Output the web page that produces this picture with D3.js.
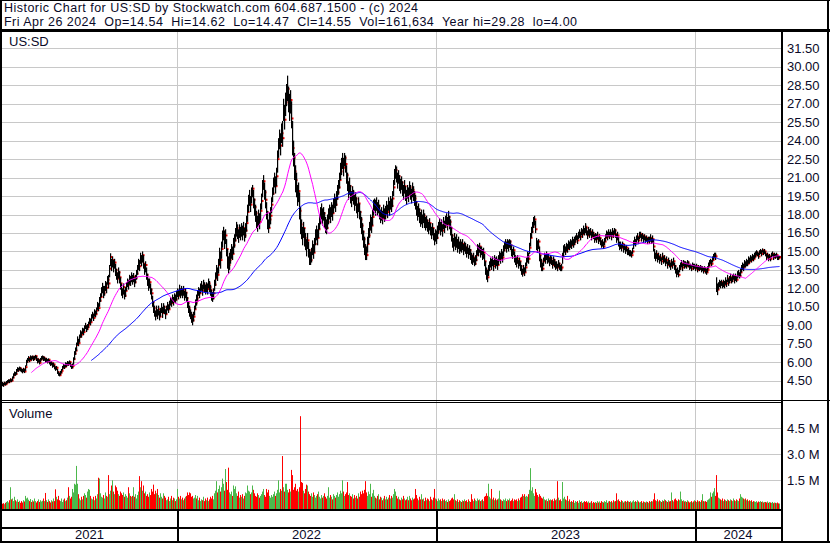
<!DOCTYPE html>
<html>
<head>
<meta charset="utf-8">
<style>
  body { margin: 0; background: #fff; }
  svg { display: block; font-family: "Liberation Sans", Arial, sans-serif; }
</style>
</head>
<body>
<svg id="chart" width="830" height="543"></svg>
<script src="https://d3js.org/d3.v7.min.js"></script>
<script>
// one entry per weekday, Mon May 3 2021 .. Fri Apr 26 2024 (5 per line = 1 week)
var closes = [
  4.25,4.18,4.30,4.22,4.35, 4.40,4.52,4.45,4.58,4.50, 4.75,4.95,5.10,5.05,5.30, 5.45,5.38,5.52,5.40,5.35,
  5.28,5.42,5.25,5.60,6.05, 6.20,6.35,6.15,6.40,6.30, 6.45,6.25,6.38,6.50,6.28, 6.05,6.18,5.95,6.22,6.35,
  6.42,6.25,6.30,6.10,6.18, 6.05,6.20,5.98,5.85,5.92, 5.70,5.82,5.60,5.45,5.55, 5.20,5.05,4.95,5.15,5.30,
  5.55,5.70,5.62,5.85,5.78, 5.95,5.88,6.02,5.75,5.58, 5.70,6.25,6.70,6.95,7.40, 7.80,7.55,8.05,8.40,8.25,
  8.60,8.45,8.80,8.95,8.70, 8.85,9.05,9.40,9.25,9.70, 9.85,9.60,10.05,9.90,10.20, 10.65,10.40,11.00,11.30,11.75,
  12.10,11.60,11.85,12.30,12.05, 12.70,12.40,13.60,14.55,13.90, 14.30,13.80,14.10,13.50,13.20, 12.80,13.30,12.90,12.40,11.90,
  11.60,12.10,11.40,11.80,12.20, 12.50,12.30,12.80,12.60,13.00, 12.70,12.95,12.50,12.85,13.20, 13.60,14.10,13.80,14.60,14.20,
  14.70,14.00,13.50,13.90,13.10, 12.70,12.20,12.50,11.90,11.60, 10.90,10.40,10.10,9.80,10.20, 9.90,10.30,9.70,10.10,10.40,
  10.00,10.50,10.20,9.90,10.35, 10.60,10.30,10.75,11.00,10.80, 11.20,10.90,11.30,11.10,11.45, 11.70,11.40,11.90,11.60,11.80,
  11.55,11.90,11.30,11.65,11.20, 10.80,10.40,10.00,9.85,9.60, 9.40,9.70,10.30,10.80,11.20, 11.00,11.50,11.80,11.60,12.00,
  12.20,11.80,12.30,12.05,11.90, 12.15,11.95,12.40,12.10,11.85, 11.50,11.20,11.60,12.30,12.80, 13.40,13.10,13.90,14.60,14.30,
  15.20,16.10,16.60,15.80,16.30, 15.20,14.40,13.90,14.30,14.60, 15.10,14.80,15.50,15.90,16.40, 16.90,16.50,16.20,16.70,16.40,
  16.80,16.50,16.90,16.30,16.70, 17.30,18.20,18.90,19.40,18.80, 19.60,20.10,19.20,18.60,18.10, 17.60,17.20,17.80,17.40,18.30,
  19.10,20.20,20.70,19.80,19.20, 18.20,17.40,16.90,17.60,17.90, 18.80,19.70,20.40,20.90,20.30, 21.10,22.50,23.40,24.10,23.60,
  24.60,24.20,26.50,25.70,27.10, 27.80,28.20,27.40,26.60,27.30, 25.80,23.40,22.60,21.50,20.80, 20.20,19.40,19.90,18.30,17.20,
  16.80,16.20,16.90,16.10,15.80, 15.30,15.90,15.10,14.50,14.30, 14.80,15.40,14.90,15.60,16.20, 16.50,16.10,16.80,17.40,17.90,
  18.30,17.70,18.10,17.50,17.10, 16.90,17.40,17.80,18.20,17.90, 18.40,18.10,18.70,19.10,18.80, 19.30,19.80,20.20,20.80,21.50,
  21.90,22.40,21.80,22.60,22.10, 21.20,20.60,19.90,20.30,19.60, 19.20,19.80,19.40,18.90,19.30, 18.70,18.30,18.90,18.20,17.60,
  17.10,16.60,16.00,15.40,14.80, 14.70,15.60,16.30,16.80,17.40, 17.10,17.80,18.60,19.00,18.50, 18.90,18.40,18.70,18.20,17.80,
  18.10,17.70,18.30,17.90,18.20, 18.60,18.20,18.90,18.50,19.00, 18.70,19.30,20.20,21.10,21.60, 21.20,20.70,21.10,20.50,20.30,
  20.60,20.10,19.80,20.30,19.70, 19.40,19.90,19.60,20.20,19.80, 19.50,20.00,19.70,19.30,19.00, 18.50,18.10,18.40,17.90,17.60,
  17.80,17.40,17.90,17.50,17.20, 17.50,17.10,16.90,17.30,16.80, 16.50,16.90,16.40,16.00,16.30, 16.10,16.60,16.90,17.20,16.80,
  17.10,16.70,17.30,17.00,17.40, 17.60,17.20,17.80,17.40,16.90, 16.30,15.80,15.50,16.00,15.60, 15.90,15.40,15.70,15.20,15.50,
  15.30,15.60,15.10,15.40,15.20, 14.90,15.20,14.80,15.10,14.70, 14.40,14.20,14.50,14.00,14.30, 14.70,15.20,15.00,15.40,14.90,
  15.10,14.70,14.90,14.20,13.50, 13.20,12.90,13.50,13.80,14.10, 13.90,14.20,13.80,14.30,14.00, 14.20,13.90,14.30,14.60,14.40,
  14.80,14.50,15.10,15.40,15.70, 15.30,15.60,15.40,15.80,15.50, 15.00,14.80,15.10,14.50,14.30, 14.10,14.40,13.90,14.20,13.80,
  13.50,13.20,13.60,13.30,13.70, 14.20,14.60,14.40,15.30,16.10, 16.60,17.00,17.40,17.60,16.80, 15.60,15.40,15.80,14.70,14.20,
  13.90,13.60,14.20,14.60,14.40, 14.70,14.30,14.50,14.10,14.40, 14.20,13.90,14.30,14.00,13.80, 13.90,13.70,14.00,13.80,13.60,
  13.70,14.60,15.10,15.30,15.00, 15.40,15.20,15.60,15.40,15.70, 15.50,15.90,15.60,15.80,16.00, 16.20,15.90,16.30,16.50,16.20,
  16.60,16.40,16.80,16.60,17.00, 16.90,16.60,16.30,16.70,16.40, 16.60,16.20,16.50,16.30,16.00, 16.20,16.00,16.30,15.90,16.10,
  15.80,15.50,15.70,15.40,15.80, 16.10,16.40,16.20,16.50,16.30, 16.50,16.20,16.60,16.40,16.70, 16.40,16.00,16.30,15.60,15.40,
  15.50,15.30,15.60,15.20,15.40, 15.10,15.30,14.90,15.00,14.80, 14.90,14.70,15.00,15.60,15.90, 15.70,16.00,16.20,15.90,16.30,
  16.40,16.10,16.30,16.00,16.20, 15.90,16.10,15.80,16.00,15.90, 16.10,15.80,16.00,15.40,14.70, 14.50,14.80,14.40,14.60,14.30,
  14.50,14.20,14.60,14.30,14.40, 14.10,14.30,13.90,14.20,14.00, 13.80,14.10,13.90,14.20,13.80, 13.50,13.20,13.40,13.10,13.60,
  13.80,14.00,13.70,14.10,13.90, 14.00,13.80,14.10,13.90,13.70, 13.80,13.60,13.90,13.70,13.80, 13.60,13.80,13.50,13.70,13.60,
  13.70,13.50,13.60,13.40,13.60, 13.40,13.30,13.50,13.80,14.00, 14.20,14.00,14.30,14.50,14.70, 14.60,12.20,11.90,12.20,12.40,
  12.30,12.50,12.20,12.40,12.30, 12.60,12.40,12.80,12.50,12.70, 12.90,12.60,12.80,13.00,12.70, 12.90,12.70,13.10,13.20,13.00,
  13.30,13.60,13.80,13.70,14.00, 13.90,14.10,14.00,14.30,14.20, 14.40,14.30,14.50,14.40,14.60, 14.70,14.90,14.80,14.60,14.90,
  15.00,14.80,15.10,14.90,15.00, 14.80,14.50,14.70,14.40,14.60, 14.40,14.70,14.80,14.50,14.70, 14.60,14.70,14.50,14.45,14.55
];

var highs = [
  4.40,4.32,4.42,4.35,4.48, 4.55,4.62,4.60,4.70,4.62, 4.85,5.10,5.25,5.20,5.45, 5.60,5.55,5.65,5.58,5.50,
  5.45,5.55,5.45,5.75,6.20, 6.35,6.50,6.35,6.56,6.48, 6.55,6.48,6.52,6.60,6.50, 6.30,6.32,6.20,6.35,6.50,
  6.55,6.48,6.45,6.32,6.35, 6.25,6.32,6.18,6.05,6.08, 5.95,5.98,5.80,5.65,5.70, 5.45,5.25,5.15,5.30,5.45,
  5.70,5.85,5.80,6.00,5.95, 6.10,6.05,6.15,6.00,5.80, 5.90,6.40,6.90,7.20,7.60, 8.10,7.90,8.25,8.60,8.50,
  8.80,8.75,9.00,9.20,9.00, 9.10,9.30,9.60,9.55,9.90, 10.10,9.95,10.30,10.20,10.45, 10.90,10.80,11.30,11.60,12.10,
  12.45,12.20,12.20,12.60,12.50, 13.00,13.10,13.90,14.85,14.40, 14.60,14.30,14.40,14.00,13.60, 13.30,13.70,13.40,12.90,12.40,
  12.00,12.40,11.90,12.10,12.50, 12.80,12.70,13.10,13.00,13.30, 13.10,13.25,12.90,13.10,13.50, 13.90,14.40,14.30,14.90,14.70,
  15.00,14.70,14.00,14.20,13.70, 13.20,12.80,12.80,12.40,12.00, 11.40,10.90,10.60,10.20,10.60, 10.30,10.60,10.20,10.40,10.80,
  10.50,10.80,10.60,10.30,10.60, 10.90,10.70,11.00,11.30,11.20, 11.50,11.30,11.60,11.50,11.80, 12.00,11.90,12.30,12.00,12.20,
  12.00,12.20,11.80,12.00,11.70, 11.30,10.90,10.60,10.30,10.10, 9.90,10.10,10.60,11.10,11.50, 11.40,11.80,12.10,12.00,12.40,
  12.60,12.30,12.70,12.50,12.30, 12.50,12.40,12.80,12.60,12.30, 11.90,11.70,12.00,12.70,13.30, 13.90,13.70,14.40,15.30,15.00,
  15.80,16.70,17.00,16.70,16.80, 16.00,15.20,14.60,14.90,15.20, 15.60,15.40,16.10,16.40,16.90, 17.40,17.20,16.80,17.20,17.00,
  17.30,17.10,17.40,16.90,17.30, 17.90,18.80,19.60,20.00,19.50, 20.20,20.40,20.00,19.30,18.80, 18.30,17.90,18.40,18.10,18.90,
  19.70,20.80,21.20,20.60,20.00, 19.00,18.30,17.60,18.20,18.60, 19.40,20.20,21.00,21.40,21.10, 21.80,23.20,24.20,24.90,24.60,
  25.40,25.60,27.40,26.90,27.90, 28.60,29.28,28.40,27.80,28.10, 27.20,25.60,24.00,23.00,22.00, 21.40,20.40,20.60,19.80,18.60,
  17.60,17.00,17.40,16.90,16.50, 16.00,16.50,15.80,15.20,15.00, 15.30,15.90,15.60,16.10,16.80, 17.10,16.80,17.30,18.00,18.60,
  18.90,18.50,18.60,18.20,17.80, 17.60,18.00,18.50,18.80,18.60, 19.00,18.80,19.30,19.70,19.40, 19.90,20.40,20.80,21.40,22.20,
  22.60,23.00,22.60,23.00,22.80, 22.00,21.40,20.70,21.00,20.40, 19.90,20.30,20.00,19.60,19.80, 19.40,18.90,19.40,18.90,18.30,
  17.80,17.30,16.70,16.20,15.60, 15.40,16.20,16.90,17.40,18.00, 17.80,18.40,19.20,19.30,19.20, 19.40,19.00,19.20,18.80,18.40,
  18.60,18.30,18.80,18.50,18.70, 19.10,18.80,19.40,19.10,19.50, 19.30,19.90,20.80,21.70,22.00, 21.90,21.40,21.60,21.20,20.90,
  21.10,20.70,20.40,20.80,20.30, 20.00,20.40,20.20,20.70,20.40, 20.10,20.60,20.30,19.90,19.60, 19.10,18.70,18.90,18.50,18.20,
  18.40,18.00,18.40,18.10,17.80, 17.90,17.60,17.40,17.70,17.30, 17.00,17.30,16.90,16.50,16.80, 16.70,17.10,17.40,17.70,17.40,
  17.60,17.20,17.80,17.50,17.90, 18.10,17.80,18.30,17.90,17.60, 17.00,16.40,16.10,16.50,16.20, 16.40,16.00,16.20,15.80,16.00,
  15.80,16.00,15.60,15.80,15.70, 15.40,15.60,15.30,15.50,15.20, 14.90,14.70,14.90,14.50,14.70, 15.10,15.60,15.50,15.70,15.40,
  15.40,15.20,15.30,14.80,14.20, 13.70,13.50,13.90,14.20,14.50, 14.40,14.60,14.30,14.70,14.50, 14.60,14.40,14.70,15.00,14.90,
  15.20,15.00,15.50,15.80,16.00, 15.80,16.00,15.90,16.00,15.90, 15.50,15.20,15.40,15.00,14.70, 14.50,14.70,14.30,14.50,14.20,
  13.90,13.60,13.90,13.70,14.10, 14.50,15.00,14.90,15.70,16.50, 17.00,17.40,17.80,17.90,17.50, 16.10,15.90,16.00,15.40,14.70,
  14.40,14.10,14.50,14.90,14.80, 15.00,14.80,14.80,14.50,14.70, 14.60,14.30,14.60,14.40,14.20, 14.20,14.00,14.30,14.10,13.90,
  14.00,14.90,15.50,15.60,15.40, 15.70,15.60,15.90,15.80,16.00, 15.90,16.20,16.00,16.20,16.30, 16.50,16.30,16.60,16.80,16.60,
  16.90,16.80,17.10,16.90,17.30, 17.20,17.00,16.70,17.00,16.80, 16.90,16.60,16.80,16.60,16.40, 16.50,16.40,16.60,16.20,16.40,
  16.10,15.90,16.00,15.80,16.10, 16.40,16.70,16.60,16.80,16.60, 16.80,16.60,16.90,16.70,16.90, 16.80,16.40,16.60,16.20,15.80,
  15.80,15.60,15.80,15.50,15.60, 15.40,15.50,15.20,15.30,15.10, 15.10,15.00,15.30,15.90,16.20, 16.00,16.30,16.50,16.20,16.60,
  16.60,16.40,16.50,16.30,16.40, 16.20,16.30,16.10,16.20,16.20, 16.40,16.10,16.30,16.00,15.20, 14.90,15.10,14.80,14.90,14.60,
  14.80,14.50,14.90,14.60,14.70, 14.40,14.60,14.20,14.50,14.30, 14.10,14.40,14.20,14.50,14.10, 13.90,13.60,13.70,13.50,13.90,
  14.10,14.30,14.00,14.30,14.20, 14.20,14.10,14.30,14.20,14.00, 14.00,13.90,14.10,14.00,14.00, 13.90,14.00,13.80,13.90,13.80,
  13.90,13.80,13.80,13.70,13.80, 13.70,13.60,13.80,14.10,14.30, 14.40,14.30,14.60,14.80,14.90, 14.90,12.90,12.40,12.50,12.70,
  12.60,12.70,12.50,12.70,12.60, 12.90,12.70,13.10,12.80,13.00, 13.20,12.90,13.10,13.20,13.00, 13.20,13.00,13.40,13.50,13.30,
  13.60,13.90,14.10,14.00,14.30, 14.20,14.40,14.30,14.60,14.50, 14.70,14.60,14.80,14.70,14.90, 15.00,15.10,15.00,14.90,15.10,
  15.20,15.10,15.25,15.10,15.20, 15.00,14.80,14.90,14.70,14.80, 14.60,14.90,15.00,14.80,14.90, 14.80,14.90,14.70,14.65,14.62
];

var lows = [
  4.05,4.00,4.15,4.10,4.20, 4.28,4.35,4.30,4.42,4.38, 4.50,4.70,4.90,4.90,5.00, 5.25,5.22,5.35,5.25,5.18,
  5.10,5.20,5.12,5.30,5.70, 5.95,6.10,6.00,6.18,6.12, 6.25,6.10,6.18,6.30,6.10, 5.90,5.98,5.82,6.00,6.15,
  6.22,6.10,6.12,5.95,6.00, 5.90,6.00,5.82,5.70,5.75, 5.55,5.62,5.42,5.30,5.38, 5.05,4.90,4.85,4.95,5.10,
  5.35,5.50,5.45,5.60,5.60, 5.75,5.70,5.82,5.60,5.45, 5.50,5.80,6.20,6.60,6.90, 7.40,7.30,7.60,8.00,8.00,
  8.30,8.20,8.50,8.70,8.45, 8.60,8.80,9.10,9.00,9.30, 9.55,9.35,9.70,9.65,9.90, 10.25,10.15,10.50,10.90,11.30,
  11.60,11.20,11.40,11.80,11.60, 12.30,12.00,12.90,13.80,13.40, 13.70,13.30,13.60,13.00,12.70, 12.40,12.80,12.40,11.90,11.40,
  11.20,11.50,11.10,11.30,11.80, 12.10,11.90,12.30,12.20,12.50, 12.30,12.50,12.10,12.40,12.70, 13.10,13.50,13.40,14.00,13.80,
  14.10,13.60,13.10,13.30,12.70, 12.20,11.80,12.00,11.50,11.10, 10.50,10.00,9.70,9.40,9.70, 9.50,9.80,9.40,9.70,10.00,
  9.60,10.00,9.90,9.50,9.90, 10.20,10.00,10.30,10.60,10.50, 10.80,10.60,10.90,10.80,11.00, 11.30,11.10,11.40,11.20,11.40,
  11.20,11.40,11.00,11.20,10.90, 10.40,10.00,9.70,9.50,9.20, 9.00,9.30,9.80,10.30,10.80, 10.60,11.00,11.40,11.20,11.60,
  11.80,11.40,11.90,11.70,11.50, 11.70,11.50,12.00,11.70,11.40, 11.00,10.90,11.10,11.80,12.20, 12.80,12.60,13.20,13.90,13.60,
  14.40,15.30,15.90,15.20,15.60, 14.60,13.60,13.20,13.50,14.00, 14.40,14.30,14.80,15.30,15.80, 16.20,16.00,15.70,16.10,15.90,
  16.20,15.90,16.30,15.80,16.10, 16.60,17.40,18.20,18.70,18.20, 18.90,19.40,18.50,17.90,17.40, 16.90,16.60,17.10,16.80,17.50,
  18.40,19.40,20.00,19.20,18.50, 17.60,16.80,16.50,16.90,17.20, 18.10,19.00,19.60,20.20,19.70, 20.30,21.40,22.60,23.30,22.80,
  23.80,23.50,25.60,24.90,26.00, 26.80,27.20,26.30,25.60,26.20, 25.00,22.80,21.90,20.80,19.80, 19.40,18.70,19.00,17.60,16.40,
  16.00,15.50,16.10,15.40,15.10, 14.60,15.20,14.50,13.90,13.90, 14.10,14.70,14.40,14.90,15.50, 15.90,15.50,16.10,16.80,17.20,
  17.60,17.10,17.50,16.90,16.50, 16.40,16.80,17.20,17.60,17.30, 17.80,17.50,18.10,18.50,18.20, 18.70,19.20,19.60,20.10,20.80,
  21.20,21.70,21.10,21.90,21.40, 20.50,19.90,19.20,19.60,18.90, 18.60,19.10,18.80,18.30,18.70, 18.10,17.70,18.20,17.60,16.90,
  16.40,15.90,15.30,14.70,14.30, 14.30,14.90,15.60,16.10,16.70, 16.50,17.10,17.90,18.30,17.90, 18.30,17.90,18.10,17.60,17.30,
  17.50,17.20,17.70,17.40,17.60, 18.00,17.70,18.30,17.90,18.40, 18.20,18.60,19.50,20.40,20.90, 20.60,20.10,20.50,19.90,19.70,
  20.00,19.50,19.20,19.70,19.10, 18.80,19.30,19.00,19.60,19.20, 18.90,19.40,19.10,18.70,18.40, 17.90,17.50,17.80,17.30,17.00,
  17.20,16.90,17.30,16.90,16.70, 16.90,16.60,16.40,16.70,16.30, 16.00,16.30,15.90,15.50,15.80, 15.60,16.00,16.40,16.70,16.30,
  16.60,16.20,16.80,16.50,16.90, 17.10,16.70,17.20,16.80,16.30, 15.80,15.30,15.00,15.40,15.10, 15.30,14.90,15.20,14.80,15.00,
  14.90,15.10,14.70,15.00,14.80, 14.50,14.80,14.40,14.70,14.30, 14.00,13.90,14.10,13.80,13.90, 14.20,14.70,14.60,14.90,14.50,
  14.70,14.30,14.40,13.80,13.10, 12.70,12.50,13.00,13.40,13.70, 13.50,13.80,13.40,13.90,13.60, 13.80,13.50,13.90,14.20,14.00,
  14.40,14.10,14.60,15.00,15.20, 14.90,15.20,15.00,15.30,15.10, 14.60,14.40,14.70,14.10,13.90, 13.70,14.00,13.60,13.80,13.40,
  13.10,12.95,13.20,13.00,13.30, 13.80,14.10,14.00,14.80,15.40, 16.10,16.50,16.90,17.10,16.50, 15.10,14.90,15.20,14.20,13.70,
  13.40,13.40,13.80,14.20,14.00, 14.30,14.00,14.10,13.80,14.00, 13.90,13.60,13.90,13.70,13.50, 13.60,13.40,13.70,13.50,13.40,
  13.40,14.00,14.60,14.90,14.70, 15.00,14.90,15.20,15.10,15.30, 15.20,15.50,15.30,15.50,15.70, 15.90,15.60,16.00,16.10,15.90,
  16.30,16.10,16.40,16.30,16.60, 16.50,16.30,16.00,16.30,16.10, 16.30,15.90,16.20,16.00,15.70, 15.90,15.70,16.00,15.60,15.80,
  15.50,15.30,15.40,15.20,15.50, 15.80,16.10,15.90,16.20,16.00, 16.20,15.90,16.30,16.10,16.40, 16.10,15.70,15.90,15.40,15.10,
  15.20,15.00,15.30,14.90,15.10, 14.80,15.00,14.70,14.70,14.60, 14.60,14.50,14.80,15.20,15.50, 15.40,15.70,15.90,15.60,16.00,
  16.10,15.80,16.00,15.70,15.90, 15.70,15.80,15.60,15.80,15.60, 15.80,15.60,15.70,15.00,14.40, 14.20,14.40,14.10,14.30,14.00,
  14.20,13.90,14.30,14.00,14.10, 13.80,14.00,13.60,13.90,13.70, 13.50,13.80,13.60,13.90,13.50, 13.20,12.90,13.10,12.90,13.30,
  13.50,13.70,13.40,13.80,13.60, 13.70,13.60,13.80,13.70,13.50, 13.60,13.40,13.70,13.50,13.60, 13.40,13.60,13.30,13.50,13.40,
  13.50,13.30,13.40,13.20,13.40, 13.20,13.10,13.30,13.60,13.80, 14.00,13.80,14.10,14.30,14.50, 14.30,11.70,11.45,11.90,12.10,
  12.00,12.20,12.00,12.10,12.00, 12.30,12.10,12.50,12.20,12.40, 12.60,12.40,12.50,12.70,12.40, 12.60,12.50,12.80,12.90,12.80,
  13.00,13.30,13.50,13.40,13.70, 13.70,13.80,13.80,14.00,14.00, 14.20,14.10,14.30,14.20,14.40, 14.50,14.70,14.60,14.40,14.70,
  14.80,14.60,14.90,14.70,14.80, 14.60,14.30,14.50,14.20,14.40, 14.20,14.50,14.60,14.30,14.50, 14.40,14.50,14.30,14.30,14.47
];

// daily volume, millions of shares
var volumes = [
  0.15,0.18,0.12,0.20,0.25, 0.30,0.22,0.35,1.10,0.40, 0.45,0.30,0.55,0.35,0.28, 0.40,0.25,0.32,0.20,0.30,
  0.22,0.35,0.28,0.60,0.45, 0.50,0.38,0.30,0.42,0.25, 0.35,0.28,0.45,0.30,0.22, 0.30,0.40,0.25,0.35,0.28,
  0.32,0.45,0.30,0.77,0.35, 0.25,0.40,0.30,0.22,0.35, 0.28,0.45,0.30,0.98,0.55, 0.40,0.60,0.35,0.30,0.45,
  0.25,0.38,0.45,0.30,0.35, 0.50,1.10,0.60,0.45,0.55, 1.00,0.80,1.30,1.25,2.33, 1.30,0.70,0.45,0.35,0.55,
  0.40,0.60,0.75,0.65,0.50, 0.85,1.00,0.95,0.60,0.45, 0.40,0.55,0.35,0.60,0.45, 0.70,1.65,1.60,0.75,0.55,
  0.50,0.65,0.45,0.80,0.60, 0.55,1.80,0.70,0.90,1.20, 1.50,0.85,0.70,1.20,1.10, 0.90,0.70,0.60,0.85,0.75,
  0.65,0.80,0.55,0.70,0.60, 0.50,1.10,0.75,0.60,0.55, 0.60,1.10,0.55,0.70,0.45, 0.65,0.85,1.74,1.10,1.45,
  0.90,1.20,0.75,0.85,0.60, 0.70,0.55,0.80,0.65,1.00, 0.85,1.25,0.70,0.90,0.75, 1.00,0.65,0.50,0.75,0.55,
  0.45,0.75,0.60,0.50,0.35, 0.40,0.55,0.30,0.45,0.60, 0.35,0.50,0.45,0.30,0.40, 1.00,0.55,0.45,0.60,0.40,
  0.50,0.35,0.45,0.55,0.60, 0.80,0.65,0.80,0.75,0.55, 0.60,0.45,0.50,0.65,0.40, 0.45,0.60,0.35,0.50,0.30,
  0.40,0.35,0.55,0.30,0.45, 0.35,0.50,0.30,0.40,0.55, 0.45,0.60,0.40,0.75,0.90, 1.45,0.80,1.00,1.20,0.85,
  1.10,1.60,1.30,0.90,2.15, 1.40,0.95,2.23,0.80,0.70, 0.85,0.60,1.20,1.00,1.15, 0.75,0.60,0.85,0.50,0.65,
  0.55,0.70,0.45,0.60,0.80, 0.75,1.20,0.90,0.85,0.70, 0.80,1.20,0.95,0.75,0.60, 0.55,0.75,0.65,0.50,0.60,
  0.70,0.85,1.00,0.65,0.55, 1.00,0.80,0.95,0.60,0.50, 0.65,0.55,0.70,0.85,0.60, 0.75,0.95,1.50,0.80,1.00,
  0.90,2.90,1.10,0.85,1.30, 1.30,0.95,0.80,1.00,0.85, 2.10,1.80,0.95,1.10,1.30, 0.90,1.00,0.85,1.10,5.20,
  1.40,1.35,0.90,0.75,1.00, 1.25,1.20,0.85,0.70,0.60, 0.75,0.55,0.80,0.65,0.50, 0.60,0.70,0.85,0.55,0.45,
  0.65,0.50,0.60,0.75,0.55, 0.45,0.60,1.10,0.50,0.65, 0.55,0.40,0.70,0.60,0.50, 0.65,0.80,0.55,0.70,0.90,
  0.75,1.50,0.85,0.60,0.70, 0.80,1.40,0.65,0.75,0.60, 0.55,0.70,0.45,0.65,0.50, 0.60,0.45,0.75,0.55,0.85,
  0.70,0.90,0.75,0.95,1.45, 0.80,0.60,0.85,0.70,1.30, 0.55,0.75,0.95,0.60,0.50, 0.45,0.60,0.70,0.40,0.55,
  0.50,0.35,0.45,0.60,0.40, 0.55,0.40,0.50,0.65,0.45, 0.60,0.50,0.70,1.00,0.85, 0.60,0.45,0.55,0.40,0.35,
  0.50,0.40,0.60,0.45,0.35, 0.40,0.55,0.35,0.60,0.45, 0.35,0.50,0.40,0.45,1.00, 0.65,0.45,0.35,0.55,0.40,
  0.70,0.40,0.45,0.30,0.50, 0.35,0.45,0.40,0.30,0.55, 0.40,0.35,0.50,1.00,0.45, 0.40,0.30,0.45,0.35,0.40,
  0.30,0.45,0.35,0.40,0.30, 0.35,0.25,0.40,0.30,0.35, 0.45,0.50,0.40,0.70,0.35, 0.30,0.40,0.25,0.35,0.30,
  0.25,0.35,0.30,0.40,0.30, 0.35,0.25,0.40,0.30,0.25, 0.70,0.40,0.30,0.45,0.35, 0.30,0.45,0.35,0.40,0.30,
  0.35,0.40,0.30,0.55,0.60, 0.75,0.60,1.30,0.55,0.45, 1.00,0.40,0.50,0.35,0.45, 0.35,0.40,0.45,0.90,0.40,
  0.35,0.30,0.40,0.35,0.45, 0.30,0.40,0.35,0.45,0.30, 0.35,0.45,0.30,0.40,0.35, 0.40,0.30,0.45,0.35,0.50,
  0.55,0.70,0.60,0.70,0.55, 0.60,0.55,0.70,0.95,2.20, 0.90,1.10,0.75,0.60,1.00, 0.80,0.65,0.55,0.70,0.60,
  0.50,0.45,0.55,0.40,0.35, 0.40,0.30,0.45,0.35,0.40, 0.35,0.40,0.30,0.45,0.35, 0.40,1.45,0.50,0.35,0.40,
  0.30,1.40,0.45,0.55,0.40, 0.35,0.60,0.30,0.40,0.25, 0.30,0.25,0.35,0.20,0.30, 0.25,0.30,0.20,0.35,0.25,
  0.30,0.20,0.25,0.30,0.22, 0.25,0.30,0.22,0.28,0.20, 0.22,0.30,0.18,0.25,0.20, 0.25,0.20,0.30,0.22,0.28,
  0.20,0.30,0.25,0.22,0.30, 0.25,0.35,0.20,0.28,0.30, 0.25,0.30,0.22,0.35,0.28, 0.30,0.75,0.35,0.40,0.30,
  0.25,0.35,0.30,0.22,0.28, 0.30,0.25,0.32,0.28,0.25, 0.30,0.22,0.28,0.35,0.25, 0.30,0.25,0.35,0.28,0.22,
  0.25,0.30,0.20,0.28,0.25, 0.22,0.28,0.25,0.20,0.30, 0.25,0.30,0.28,0.40,0.75, 0.35,0.30,0.40,0.28,0.35,
  0.30,0.25,0.35,0.30,0.40, 0.35,0.30,0.25,0.35,0.28, 0.30,0.80,0.35,0.28,0.40, 0.45,0.35,0.30,0.40,0.35,
  0.85,0.40,0.30,0.35,0.28, 0.30,0.25,0.35,0.28,0.22, 0.25,0.30,0.22,0.28,0.35, 0.30,0.25,0.35,0.28,0.30,
  0.25,0.35,0.70,0.30,0.28, 0.30,0.25,0.35,0.40,0.45, 0.80,0.55,0.75,0.85,1.05, 0.60,1.80,0.80,0.50,0.45,
  0.40,0.35,0.45,0.30,0.40, 0.35,0.30,0.40,0.35,0.30, 0.40,0.35,0.30,0.45,0.35, 0.30,0.40,0.35,0.30,0.45,
  0.70,0.55,0.50,0.45,0.40, 0.45,0.35,0.40,0.30,0.35, 0.30,0.35,0.25,0.30,0.28, 0.25,0.30,0.22,0.28,0.25,
  0.30,0.25,0.28,0.22,0.25, 0.25,0.22,0.28,0.20,0.25, 0.22,0.20,0.25,0.18,0.22, 0.20,0.18,0.22,0.17,0.16
];

// first index of each calendar year in the series
var years = ["2021", "2022", "2023", "2024"];
var yearStarts = [0, 175, 435, 695];

var priceTicks = [4.5, 6, 7.5, 9, 10.5, 12, 13.5, 15, 16.5, 18, 19.5, 21, 22.5, 24, 25.5, 27, 28.5, 30, 31.5];
var volumeTicks = [1.5, 3.0, 4.5];

var titleLines = [
  "Historic Chart for US:SD by Stockwatch.com 604.687.1500 - (c) 2024",
  "Fri Apr 26 2024  Op=14.54  Hi=14.62  Lo=14.47  Cl=14.55  Vol=161,634  Year hi=29.28  lo=4.00"
];
var titleWidths = [414, 573];

var maShort = 30, maLong = 90;

var W = 830, H = 543;
var plotLeft = 2, plotRight = 781;
var n = closes.length;

var svg = d3.select("#chart");
svg.append("rect").attr("width", W).attr("height", H).attr("fill", "#fff");

var x = d3.scaleLinear().domain([0, n - 1]).range([2, 779]);
var yPrice = d3.scaleLinear().domain([4.5, 31.5]).range([380.7, 48.3]);
var yVol = d3.scaleLinear().domain([0, 4.5]).range([506.3, 428.3]);
var volBase = 509;

function px(i) { return Math.round(x(i)); }

// grid
var grid = svg.append("g").attr("stroke", "#c8c8c8").attr("stroke-width", 1);
grid.selectAll("line.hp").data(priceTicks).enter().append("line")
  .attr("x1", plotLeft).attr("x2", plotRight)
  .attr("y1", function(d) { return Math.round(yPrice(d)) + 0.5; })
  .attr("y2", function(d) { return Math.round(yPrice(d)) + 0.5; });
grid.selectAll("line.hv").data(volumeTicks).enter().append("line")
  .attr("x1", plotLeft).attr("x2", plotRight)
  .attr("y1", function(d) { return Math.round(yVol(d)) + 0.5; })
  .attr("y2", function(d) { return Math.round(yVol(d)) + 0.5; });
grid.selectAll("line.v").data(yearStarts.slice(1)).enter().append("line")
  .attr("x1", function(d) { return px(d) + 0.5; })
  .attr("x2", function(d) { return px(d) + 0.5; })
  .attr("y1", 32).attr("y2", volBase);

// price bars: red close tick first, next bar covers it unless the close sits outside its range
var bars = d3.range(n);
svg.append("g").selectAll("rect").data(bars).enter().append("rect")
  .attr("x", function(i) { return px(i) + 1; })
  .attr("y", function(i) { return yPrice(closes[i]) - 1; })
  .attr("width", 1.5).attr("height", 2)
  .attr("fill", "#ff0000");

svg.append("g").selectAll("rect").data(bars).enter().append("rect")
  .attr("x", function(i) { return px(i); })
  .attr("y", function(i) { return yPrice(highs[i]); })
  .attr("width", 1.2)
  .attr("height", function(i) { return Math.max(1, yPrice(lows[i]) - yPrice(highs[i])); })
  .attr("fill", "#000");

// moving averages
function sma(period) {
  return closes.map(function(c, i) {
    return i < period - 1 ? null : d3.mean(closes.slice(i - period + 1, i + 1));
  });
}
var maLine = d3.line()
  .defined(function(d) { return d != null; })
  .x(function(d, i) { return x(i) + 0.5; })
  .y(function(d) { return yPrice(d); });

svg.append("path").datum(sma(maLong)).attr("d", maLine)
  .attr("fill", "none").attr("stroke", "#0000ff").attr("stroke-width", 1);
svg.append("path").datum(sma(maShort)).attr("d", maLine)
  .attr("fill", "none").attr("stroke", "#ff00ff").attr("stroke-width", 1);

// volume
svg.append("g").selectAll("rect").data(bars).enter().append("rect")
  .attr("x", function(i) { return px(i); })
  .attr("y", function(i) { return yVol(volumes[i]); })
  .attr("width", 1)
  .attr("height", function(i) { return volBase - yVol(volumes[i]); })
  .attr("fill", function(i) {
    if (i == 0) return "#ff0000";
    if (closes[i] > closes[i - 1]) return "#4cb84c";
    if (closes[i] < closes[i - 1]) return "#ff0000";
    return "#a0a0a0";
  });

// frame
var frame = svg.append("g").attr("fill", "#000");
frame.append("rect").attr("x", 0).attr("y", 0).attr("width", W).attr("height", 1);
frame.append("rect").attr("x", 0).attr("y", 0).attr("width", 2).attr("height", H);
frame.append("rect").attr("x", 827).attr("y", 0).attr("width", 2).attr("height", H);
frame.append("rect").attr("x", 0).attr("y", 541).attr("width", W).attr("height", 2);
frame.append("rect").attr("x", 0).attr("y", 29).attr("width", W).attr("height", 3);
frame.append("rect").attr("x", plotRight).attr("y", 32).attr("width", 2).attr("height", 510);
frame.append("rect").attr("x", 0).attr("y", 400).attr("width", W).attr("height", 1);
frame.append("rect").attr("x", 0).attr("y", 402).attr("width", plotRight).attr("height", 1);
frame.append("rect").attr("x", 0).attr("y", volBase).attr("width", plotRight).attr("height", 2);
frame.append("rect").attr("x", 0).attr("y", 527).attr("width", plotRight).attr("height", 2);
frame.selectAll("rect.div").data(yearStarts.slice(1)).enter().append("rect")
  .attr("x", function(d) { return px(d); })
  .attr("y", volBase).attr("width", 2).attr("height", H - volBase);

// text
var txtColor = "#0a0a28";
svg.selectAll("text.title").data(titleLines).enter().append("text")
  .attr("x", 4).attr("y", function(d, i) { return 12 + i * 14; })
  .style("white-space", "pre").attr("xml:space", "preserve")
  .attr("font-size", 12.5).attr("fill", txtColor)
  .attr("textLength", function(d, i) { return titleWidths[i]; })
  .attr("lengthAdjust", "spacing")
  .text(function(d) { return d; });

svg.append("text").attr("x", 9).attr("y", 46).attr("font-size", 13).attr("fill", txtColor).text("US:SD");
svg.append("text").attr("x", 9).attr("y", 418).attr("font-size", 13).attr("fill", txtColor).text("Volume");

svg.selectAll("text.pt").data(priceTicks).enter().append("text")
  .attr("x", 787).attr("y", function(d) { return yPrice(d) + 4.5; })
  .attr("font-size", 13).attr("fill", txtColor)
  .text(d3.format(".2f"));

svg.selectAll("text.vt").data(volumeTicks).enter().append("text")
  .attr("x", 787).attr("y", function(d) { return yVol(d) + 4.5; })
  .attr("font-size", 13).attr("fill", txtColor)
  .text(function(d) { return d3.format(".1f")(d) + " M"; });

var bounds = yearStarts.map(function(s) { return s == 0 ? plotLeft : px(s); }).concat([plotRight]);
svg.selectAll("text.yr").data(years).enter().append("text")
  .attr("x", function(d, i) { return (bounds[i] + bounds[i + 1]) / 2; })
  .attr("y", 539).attr("text-anchor", "middle")
  .attr("font-size", 13).attr("fill", txtColor)
  .text(function(d) { return d; });
</script>
</body>
</html>
